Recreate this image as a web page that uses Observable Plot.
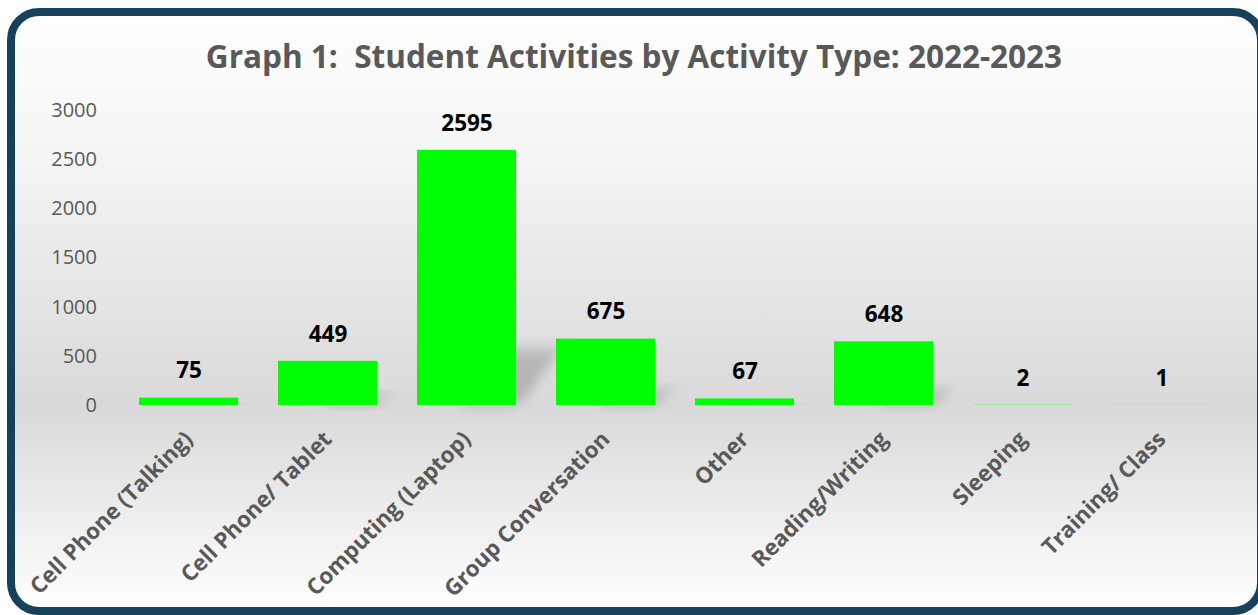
<!DOCTYPE html>
<html>
<head>
<meta charset="utf-8">
<script src="https://cdn.jsdelivr.net/npm/d3@7"></script>
<script src="https://cdn.jsdelivr.net/npm/@observablehq/plot@0.6"></script>
<style>
  html, body { margin: 0; padding: 0; background: #ffffff; }
  body { width: 1258px; height: 615px; position: relative; overflow: hidden; font-family: "Open Sans", sans-serif; }
  #frame {
    position: absolute; left: 7px; top: 8px; width: 1258px; height: 607px;
    box-sizing: border-box; border: 8px solid #17415a; border-radius: 32px;
    background: linear-gradient(to bottom, #ffffff 0%, #f6f6f6 22%, #d9d9d9 66%, #ffffff 100%);
  }
  #title {
    position: absolute; left: 0; top: 34px; width: 1268px; text-align: center;
    font-family: "Open Sans", sans-serif; font-weight: 700; font-size: 31.5px; color: #595959;
    white-space: pre; line-height: 44px;
  }
  #chart { position: absolute; left: 0; top: 0; }
</style>
</head>
<body>
<div id="frame"></div>
<div id="title">Graph 1:  Student Activities by Activity Type: 2022-2023</div>
<div id="chart"></div>
<script>
const categories = ["Cell Phone (Talking)", "Cell Phone/ Tablet", "Computing (Laptop)", "Group Conversation", "Other", "Reading/Writing", "Sleeping", "Training/ Class"];
const values = [75, 449, 2595, 675, 67, 648, 2, 1];
const yTicks = [0, 500, 1000, 1500, 2000, 2500, 3000];

const data = categories.map((c, i) => ({category: c, value: values[i]}));

const plot = Plot.plot({
  width: 1258,
  height: 615,
  marginLeft: 118.5,
  marginRight: 27.5,
  marginTop: 110,
  marginBottom: 210,
  style: {background: "transparent", overflow: "visible"},
  x: {domain: categories, paddingInner: 0.29, paddingOuter: 0.145, label: null},
  y: {domain: [0, 3000], ticks: yTicks, label: null},
  marks: [
    Plot.barY(data, {x: "category", y1: 0, y2: d => d.value * 0.22, fill: "#7a7a7a", fillOpacity: 0.4, className: "shadow"}),
    Plot.barY(data, {x: "category", y: "value", fill: "#00ff00"}),
    Plot.text(data, {
      x: "category", y: "value", text: d => String(d.value),
      dy: -27, lineAnchor: "middle", fill: "#000000",
      fontSize: 22.5, fontWeight: 700, fontFamily: "Open Sans"
    }),
    Plot.axisY({ticks: yTicks, tickSize: 0, tickPadding: 22, fontSize: 20, fill: "#595959", fontFamily: "Open Sans", tickFormat: d => String(d)}),
    Plot.axisX({tickSize: 0, tickPadding: 30, tickRotate: -45, fontSize: 22.3, fontWeight: 700, fill: "#595959", fontFamily: "Open Sans"})
  ]
});
document.getElementById("chart").appendChild(plot);

// soft perspective shadow behind bars
const svg = d3.select(plot);
const defs = svg.insert("defs", ":first-child");
const f = defs.append("filter").attr("id", "blurShadow").attr("x", "-50%").attr("y", "-50%").attr("width", "200%").attr("height", "200%");
f.append("feGaussianBlur").attr("stdDeviation", 7);
const k = Math.tan(35 * Math.PI / 180);
svg.selectAll(".shadow rect").each(function() {
  const r = d3.select(this);
  const x = +r.attr("x"), w = +r.attr("width");
  const y = +r.attr("y"), h = +r.attr("height");
  r.attr("x", x + w * 0.5).attr("width", w * 0.55)
   .attr("transform", `translate(${(y + h) * k},0) skewX(-35)`)
   .attr("filter", "url(#blurShadow)");
});
</script>
</body>
</html>
